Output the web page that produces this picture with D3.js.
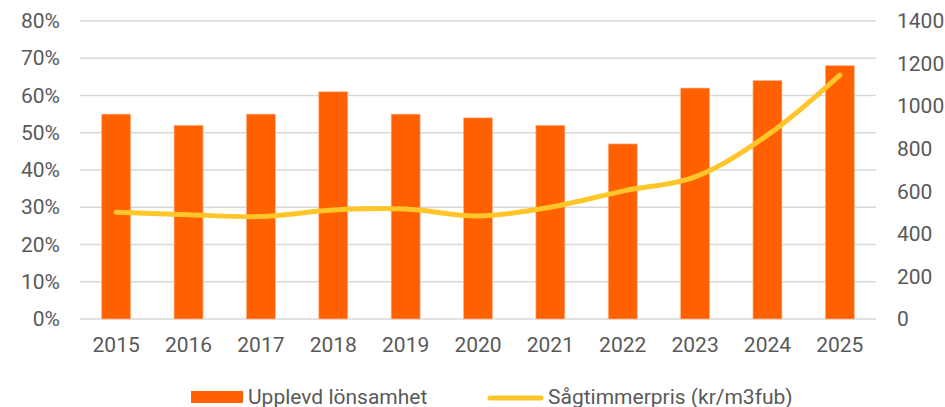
<!DOCTYPE html>
<html>
<head>
<meta charset="utf-8">
<script src="https://cdn.jsdelivr.net/npm/d3@7"></script>
<style>
  body { margin: 0; background: #fff; }
  text { font-family: Roboto, "Noto Sans", sans-serif; fill: #595959; }
</style>
</head>
<body>
<script>
const years = ["2015", "2016", "2017", "2018", "2019", "2020", "2021", "2022", "2023", "2024", "2025"];
const lonsamhet = [55, 52, 55, 61, 55, 54, 52, 47, 62, 64, 68];
const timmerpris = [501, 490, 481, 512, 517, 484, 525, 601, 668, 864, 1146];
const leftTicks = [0, 10, 20, 30, 40, 50, 60, 70, 80];
const rightTicks = [0, 200, 400, 600, 800, 1000, 1200, 1400];

const width = 945, height = 407;
const margin = { top: 21, right: 69, bottom: 88, left: 80 };
const fontSize = 21;

const svg = d3.select("body").append("svg")
    .attr("width", width)
    .attr("height", height);

const x = d3.scaleBand()
    .domain(years)
    .range([margin.left, width - margin.right])
    .paddingInner(0.6)
    .paddingOuter(0.3);

const yLeft = d3.scaleLinear().domain([0, 80]).range([height - margin.bottom, margin.top]);
const yRight = d3.scaleLinear().domain([0, 1400]).range([height - margin.bottom, margin.top]);

// gridlines
svg.append("g")
    .selectAll("line")
    .data(leftTicks)
    .join("line")
    .attr("x1", margin.left)
    .attr("x2", width - margin.right)
    .attr("y1", d => yLeft(d))
    .attr("y2", d => yLeft(d))
    .attr("stroke", "#d9d9d9")
    .attr("stroke-width", 1.5);

// left axis
const leftAxis = svg.append("g")
    .attr("transform", `translate(${margin.left},0)`)
    .call(d3.axisLeft(yLeft).tickValues(leftTicks).tickFormat(d => d + "%").tickSize(0).tickPadding(20));
leftAxis.select(".domain").remove();
leftAxis.selectAll("text").attr("font-size", fontSize).attr("fill", "#595959").attr("font-family", "Roboto");

// right axis
const rightAxis = svg.append("g")
    .attr("transform", `translate(${width - margin.right},0)`)
    .call(d3.axisRight(yRight).tickValues(rightTicks).tickFormat(d3.format("d")).tickSize(0).tickPadding(21));
rightAxis.select(".domain").remove();
rightAxis.selectAll("text").attr("font-size", fontSize).attr("fill", "#595959").attr("font-family", "Roboto");

// x axis labels
const xAxis = svg.append("g")
    .attr("transform", `translate(0,${height - margin.bottom})`)
    .call(d3.axisBottom(x).tickSize(0).tickPadding(18));
xAxis.select(".domain").remove();
xAxis.selectAll("text").attr("font-size", fontSize).attr("fill", "#595959").attr("font-family", "Roboto");

// bars
svg.append("g")
    .selectAll("rect")
    .data(years)
    .join("rect")
    .attr("x", d => x(d))
    .attr("width", x.bandwidth())
    .attr("y", (d, i) => yLeft(lonsamhet[i]))
    .attr("height", (d, i) => yLeft(0) - yLeft(lonsamhet[i]))
    .attr("fill", "#ff6000")
    .attr("stroke", "#ffb48a")
    .attr("stroke-width", 0.7);

// line
const line = d3.line()
    .x((d, i) => x(years[i]) + x.bandwidth() / 2)
    .y(d => yRight(d))
    .curve(d3.curveCatmullRom);

svg.append("path")
    .datum(timmerpris)
    .attr("d", line)
    .attr("fill", "none")
    .attr("stroke", "#ffc629")
    .attr("stroke-width", 5)
    .attr("stroke-linecap", "round");

// legend
const legend = svg.append("g");
legend.append("rect")
    .attr("x", 191).attr("y", 391)
    .attr("width", 52).attr("height", 12)
    .attr("fill", "#ff6000");
legend.append("text")
    .attr("x", 248).attr("y", 404)
    .attr("font-size", fontSize)
    .text("Upplevd lönsamhet");
legend.append("line")
    .attr("x1", 490).attr("x2", 541)
    .attr("y1", 398).attr("y2", 398)
    .attr("stroke", "#ffc629")
    .attr("stroke-width", 5)
    .attr("stroke-linecap", "round");
legend.append("text")
    .attr("x", 548).attr("y", 404)
    .attr("font-size", fontSize)
    .text("Sågtimmerpris (kr/m3fub)");
</script>
</body>
</html>
